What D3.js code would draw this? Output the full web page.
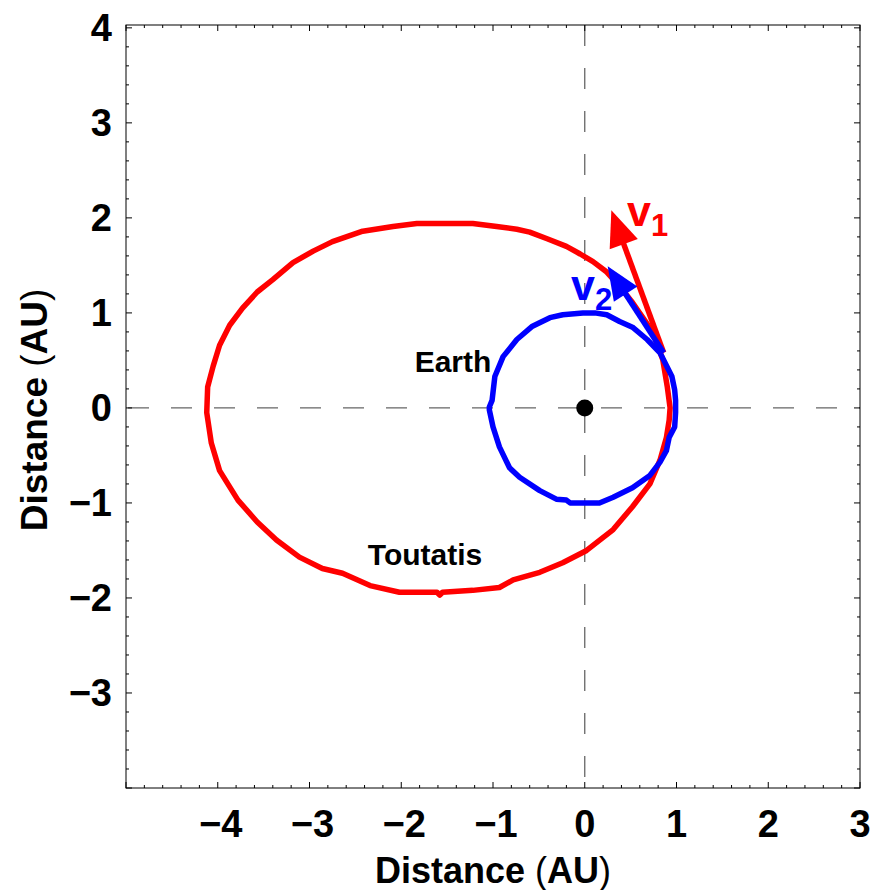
<!DOCTYPE html>
<html>
<head>
<meta charset="utf-8">
<script src="https://cdn.jsdelivr.net/npm/d3@7"></script>
<style>
  body { margin: 0; background: #fff; }
  svg { display: block; font-family: "Liberation Sans", Arial, sans-serif; }
  .lbl { font-weight: bold; }
</style>
</head>
<body>
<svg width="871" height="890"></svg>
<script>
// orbit of Toutatis (AU)
const toutatisOrbit = [
  [0.93, 0], [0.90, 0.22], [0.85, 0.51], [0.74, 0.80], [0.52, 1.11], [0.38, 1.28],
  [0.24, 1.43], [0.09, 1.54], [-0.05, 1.62], [-0.20, 1.70], [-0.41, 1.78], [-0.60, 1.85],
  [-0.74, 1.88], [-0.96, 1.91], [-1.22, 1.94], [-1.83, 1.94], [-2.09, 1.91], [-2.42, 1.86],
  [-2.75, 1.75], [-2.96, 1.65], [-3.18, 1.53], [-3.40, 1.35], [-3.57, 1.22], [-3.73, 1.05],
  [-3.87, 0.87], [-3.98, 0.66], [-4.05, 0.44], [-4.11, 0.22], [-4.12, -0.05], [-4.07, -0.37],
  [-3.98, -0.66], [-3.78, -0.97], [-3.57, -1.20], [-3.36, -1.39], [-3.11, -1.57], [-2.86, -1.69],
  [-2.64, -1.74], [-2.34, -1.87], [-2.02, -1.94], [-1.61, -1.94], [-1.58, -1.97], [-1.55, -1.94],
  [-1.22, -1.92], [-0.93, -1.89], [-0.78, -1.81], [-0.49, -1.73], [-0.24, -1.63], [0.02, -1.50],
  [0.31, -1.28], [0.52, -1.04], [0.71, -0.80], [0.82, -0.55], [0.89, -0.31], [0.92, -0.13]
]

// orbit of the Earth
const earthOrbit = [
  [0.99, 0.08], [0.98, 0.19], [0.95, 0.33], [0.82, 0.58], [0.68, 0.72], [0.52, 0.85],
  [0.38, 0.91], [0.24, 0.98], [0.11, 1.0], [-0.02, 1.0], [-0.24, 0.98], [-0.38, 0.95],
  [-0.57, 0.86], [-0.74, 0.72], [-0.89, 0.54], [-0.98, 0.33], [-1.01, 0.08], [-1.04, 0.01],
  [-1.04, -0.02], [-1.00, -0.20], [-0.93, -0.41], [-0.82, -0.63], [-0.71, -0.73], [-0.49, -0.87],
  [-0.31, -0.96], [-0.20, -0.97], [-0.16, -1.0], [0.16, -1.0], [0.31, -0.94], [0.52, -0.84],
  [0.71, -0.71], [0.82, -0.57], [0.89, -0.45], [0.92, -0.31], [0.98, -0.20], [0.99, -0.05]
]

// velocity arrows: start and tip
const arrowNames = ["1", "2"]
const arrowStart = [[0.86, 0.58], [0.86, 0.58]]
const arrowTip = [[0.29, 2.08], [0.25, 1.49]]
const arrowColors = ["#ff0000", "#0000ff"]

const xTicks = [-4, -3, -2, -1, 0, 1, 2, 3]
const yTicks = [-3, -2, -1, 0, 1, 2, 3, 4]

const svg = d3.select("svg")
const pLeft = 126, pRight = 860, pTop = 25, pBottom = 788

const x = d3.scaleLinear().domain([-5, 3]).range([pLeft, pRight])
const y = d3.scaleLinear().domain([-4, 4.03]).range([pBottom, pTop])

const fmt = v => (v < 0 ? "\u2212" : "") + Math.abs(v)

// dashed axes through the origin
svg.append("line")
    .attr("x1", pLeft).attr("x2", pRight).attr("y1", y(0)).attr("y2", y(0))
    .attr("stroke", "#666").attr("stroke-width", 1.3).attr("stroke-dasharray", "21,22")
    .attr("stroke-dashoffset", -2)
svg.append("line")
    .attr("x1", x(0)).attr("x2", x(0)).attr("y1", pTop).attr("y2", pBottom)
    .attr("stroke", "#666").attr("stroke-width", 1.3).attr("stroke-dasharray", "21,22")

// frame with inward ticks on all sides
const xMinor = d3.range(-5, 3.001, 0.2).map(v => +v.toFixed(1))
const yMinor = d3.range(-4, 4.001, 0.2).map(v => +v.toFixed(1))
const isMajor = v => Math.abs(v - Math.round(v)) < 1e-6

const frame = svg.append("g").attr("stroke", "#000").attr("stroke-width", 1)
frame.append("rect")
    .attr("x", pLeft).attr("y", pTop).attr("width", pRight - pLeft).attr("height", pBottom - pTop)
    .attr("fill", "none")
xMinor.forEach(v => {
    let len = isMajor(v) ? 6 : 3
    frame.append("line").attr("x1", x(v)).attr("x2", x(v)).attr("y1", pBottom).attr("y2", pBottom - len)
    frame.append("line").attr("x1", x(v)).attr("x2", x(v)).attr("y1", pTop).attr("y2", pTop + len)
})
yMinor.forEach(v => {
    let len = isMajor(v) ? 6 : 3
    frame.append("line").attr("y1", y(v)).attr("y2", y(v)).attr("x1", pLeft).attr("x2", pLeft + len)
    frame.append("line").attr("y1", y(v)).attr("y2", y(v)).attr("x1", pRight).attr("x2", pRight - len)
})

// tick labels
svg.selectAll("text.xt")
    .data(xTicks)
    .enter()
    .append("text")
    .attr("class", "xt lbl")
    .attr("x", d => x(d) + (d < 0 ? 3 : 0))
    .attr("y", 837)
    .attr("text-anchor", "middle")
    .attr("font-size", 38)
    .text(fmt)

svg.selectAll("text.yt")
    .data(yTicks)
    .enter()
    .append("text")
    .attr("class", "yt lbl")
    .attr("x", 112)
    .attr("y", d => y(d) + 13)
    .attr("text-anchor", "end")
    .attr("font-size", 38)
    .text(fmt)

// axis titles
function title(g) {
    g.append("tspan").text("Distance ")
    g.append("tspan").attr("font-weight", "normal").text("(")
    g.append("tspan").text("AU")
    g.append("tspan").attr("font-weight", "normal").text(")")
}
svg.append("text")
    .attr("class", "lbl")
    .attr("x", 493).attr("y", 883)
    .attr("text-anchor", "middle")
    .attr("font-size", 36)
    .call(title)
svg.append("text")
    .attr("class", "lbl")
    .attr("transform", `translate(47,${y(0) + 2}) rotate(-90)`)
    .attr("text-anchor", "middle")
    .attr("font-size", 37)
    .call(title)

// orbits
const line = d3.line().x(d => x(d[0])).y(d => y(d[1])).curve(d3.curveLinearClosed)

svg.append("path")
    .attr("d", line(toutatisOrbit))
    .attr("fill", "none").attr("stroke", "#ff0000").attr("stroke-width", 5.5)
    .attr("stroke-linejoin", "round")

svg.append("path")
    .attr("d", line(earthOrbit))
    .attr("fill", "none").attr("stroke", "#0000ff").attr("stroke-width", 5.5)
    .attr("stroke-linejoin", "round")

// sun
svg.append("circle")
    .attr("cx", x(0)).attr("cy", y(0)).attr("r", 8.5).attr("fill", "#000")

// velocity arrows
arrowNames.forEach((n, i) => {
    let x0 = x(arrowStart[i][0]), y0 = y(arrowStart[i][1])
    let x1 = x(arrowTip[i][0]), y1 = y(arrowTip[i][1])
    let dx = x1 - x0, dy = y1 - y0
    let L = Math.hypot(dx, dy)
    let ux = dx / L, uy = dy / L
    let head = i == 0 ? 36 : 33, half = i == 0 ? 15 : 14
    let bx = x1 - ux * head, by = y1 - uy * head
    svg.append("line")
        .attr("x1", x0).attr("y1", y0).attr("x2", bx + ux * 4).attr("y2", by + uy * 4)
        .attr("stroke", arrowColors[i]).attr("stroke-width", 5.5)
    svg.append("path")
        .attr("d", `M${x1},${y1}L${bx - uy * half},${by + ux * half}L${bx + uy * half},${by - ux * half}Z`)
        .attr("fill", arrowColors[i])
})

// velocity labels
const vPos = [[627, 226], [571, 300]]
arrowNames.forEach((n, i) => {
    let t = svg.append("text")
        .attr("class", "lbl")
        .attr("x", vPos[i][0]).attr("y", vPos[i][1])
        .attr("fill", arrowColors[i])
        .attr("font-size", 43)
    t.append("tspan").text("v")
    t.append("tspan").attr("dy", 10).attr("font-size", 31).text(n)
})

// orbit names
svg.append("text")
    .attr("class", "lbl")
    .attr("x", 453).attr("y", 372)
    .attr("text-anchor", "middle")
    .attr("font-size", 30)
    .text("Earth")
svg.append("text")
    .attr("class", "lbl")
    .attr("x", 425).attr("y", 565)
    .attr("text-anchor", "middle")
    .attr("font-size", 30)
    .text("Toutatis")
</script>
</body>
</html>
